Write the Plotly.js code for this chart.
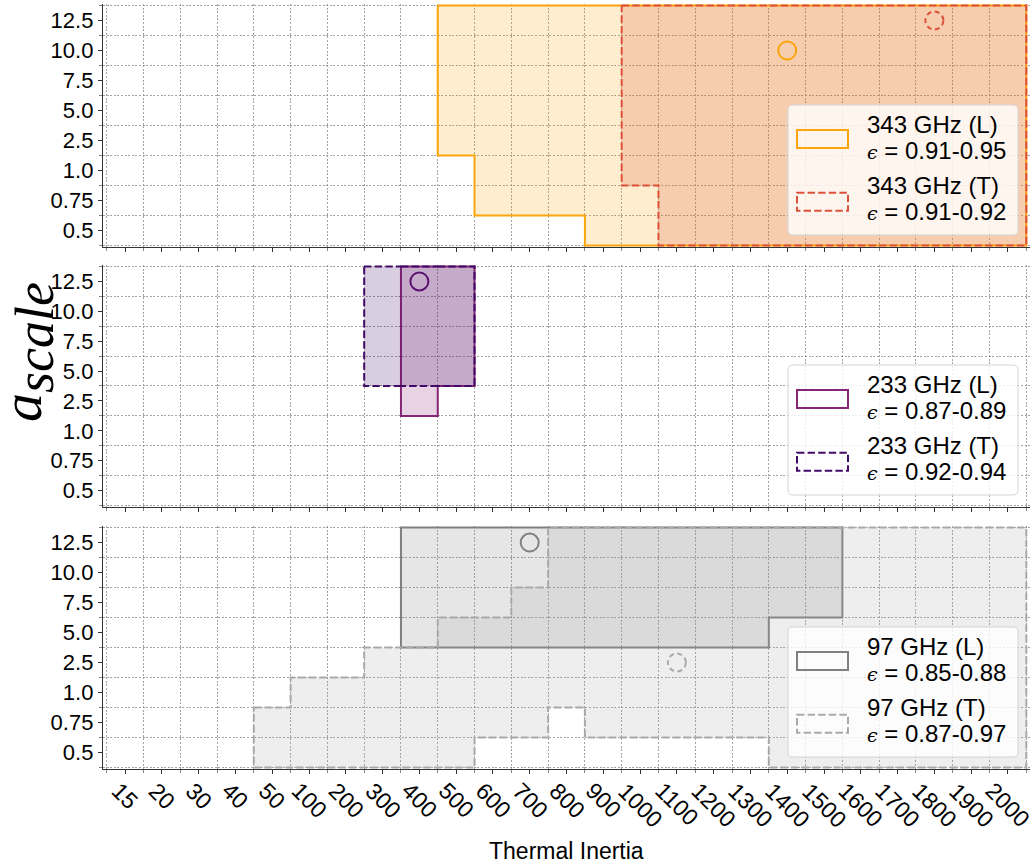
<!DOCTYPE html>
<html><head><meta charset="utf-8">
<script src="https://cdn.plot.ly/plotly-3.0.1.min.js"></script>
<style>html,body{margin:0;padding:0;background:#fff}#chart{width:1036px;height:867px}</style>
</head><body><div id="chart"></div>
<script>
// ---------------- data ----------------
const thermalInertia = ['15','20','30','40','50','100','200','300','400','500','600','700','800','900','1000','1100','1200','1300','1400','1500','1600','1700','1800','1900','2000'];
const aScale = ['0.5','0.75','1.0','2.5','5.0','7.5','10.0','12.5'];

// accepted regions: for each thermal-inertia column, lowest and highest accepted a_scale
const l343_ti = ['500','600','700','800','900','1000','1100','1200','1300','1400','1500','1600','1700','1800','1900','2000'];
const l343_lo = ['2.5','0.75','0.75','0.75','0.5','0.5','0.5','0.5','0.5','0.5','0.5','0.5','0.5','0.5','0.5','0.5'];
const l343_hi = ['12.5','12.5','12.5','12.5','12.5','12.5','12.5','12.5','12.5','12.5','12.5','12.5','12.5','12.5','12.5','12.5'];

const t343_ti = ['1000','1100','1200','1300','1400','1500','1600','1700','1800','1900','2000'];
const t343_lo = ['1.0','0.5','0.5','0.5','0.5','0.5','0.5','0.5','0.5','0.5','0.5'];
const t343_hi = ['12.5','12.5','12.5','12.5','12.5','12.5','12.5','12.5','12.5','12.5','12.5'];

const l233_ti = ['400','500'];
const l233_lo = ['2.5','5.0'];
const l233_hi = ['12.5','12.5'];

const t233_ti = ['300','400','500'];
const t233_lo = ['5.0','5.0','5.0'];
const t233_hi = ['12.5','12.5','12.5'];

const l97_ti = ['400','500','600','700','800','900','1000','1100','1200','1300','1400','1500'];
const l97_lo = ['5.0','5.0','5.0','5.0','5.0','5.0','5.0','5.0','5.0','5.0','7.5','7.5'];
const l97_hi = ['12.5','12.5','12.5','12.5','12.5','12.5','12.5','12.5','12.5','12.5','12.5','12.5'];

const t97_ti = ['50','100','200','300','400','500','600','700','800','900','1000','1100','1200','1300','1400','1500','1600','1700','1800','1900','2000'];
const t97_lo = ['0.5','0.5','0.5','0.5','0.5','0.5','0.75','0.75','1.0','0.75','0.75','0.75','0.75','0.75','0.5','0.5','0.5','0.5','0.5','0.5','0.5'];
const t97_hi = ['0.75','1.0','1.0','2.5','2.5','5.0','5.0','7.5','12.5','12.5','12.5','12.5','12.5','12.5','12.5','12.5','12.5','12.5','12.5','12.5','12.5'];

// best fits [thermal inertia, a_scale]
const best343L = ['1400','10.0'];
const best343T = ['1800','12.5'];
const best233L = ['400','12.5'];
const best97L  = ['700','12.5'];
const best97T  = ['1100','2.5'];

// legend texts
const legendNames = [['343 GHz (L)','343 GHz (T)'],['233 GHz (L)','233 GHz (T)'],['97 GHz (L)','97 GHz (T)']];
const epsRanges   = [['0.91-0.95','0.91-0.92'],['0.87-0.89','0.92-0.94'],['0.85-0.88','0.87-0.97']];

// ---------------- styles ----------------
const colL = ['#fca50a','#862573','#808080'];
const colT = ['#dd513a','#420a68','#a9a9a9'];
const fillL = ['rgba(252,165,10,0.2)','rgba(134,37,115,0.2)','rgba(128,128,128,0.2)'];
const fillT = ['rgba(221,81,58,0.2)','rgba(66,10,104,0.2)','rgba(169,169,169,0.2)'];
const circleCol = ['#fca50a','#5a1270','#808080'];
const DASH = '7.4px,3.2px';

const PL=103, PR=1030, PT=4, PB=769;
const fx = p => (p-PL)/(PR-PL);
const fy = p => (PB-p)/(PB-PT);
const panelBottomPx = [247,507,769];
const domains = [[0.6824,1],[0.3425,0.6588],[0,0.3176]];
const xAx = ['x','x2','x3'], yAx = ['y','y2','y3'];

const xi = t => thermalInertia.indexOf(t);
const yi = v => aScale.indexOf(v);

function outline(ti, lo, hi){
  const xs=[], ys=[];
  for(let k=0;k<ti.length;k++){ xs.push(xi(ti[k])-0.5, xi(ti[k])+0.5); ys.push(yi(hi[k])+0.5, yi(hi[k])+0.5); }
  for(let k=ti.length-1;k>=0;k--){ xs.push(xi(ti[k])+0.5, xi(ti[k])-0.5); ys.push(yi(lo[k])-0.5, yi(lo[k])-0.5); }
  xs.push(xs[0]); ys.push(ys[0]);
  return {xs, ys};
}

const regions = [
  [[l343_ti,l343_lo,l343_hi],[t343_ti,t343_lo,t343_hi]],
  [[l233_ti,l233_lo,l233_hi],[t233_ti,t233_lo,t233_hi]],
  [[l97_ti,l97_lo,l97_hi],[t97_ti,t97_lo,t97_hi]]
];

const traces = [];
regions.forEach((pair,p)=>{
  pair.forEach((reg,k)=>{
    const o = outline(reg[0],reg[1],reg[2]);
    traces.push({type:'scatter', mode:'lines', x:o.xs, y:o.ys, xaxis:xAx[p], yaxis:yAx[p],
      fill:'toself', fillcolor: k===0?fillL[p]:fillT[p],
      line:{color: k===0?colL[p]:colT[p], width:2, dash: k===0?'solid':DASH, simplify:false},
      hoverinfo:'skip', showlegend:false});
  });
});

// solid best-fit circles
[[best343L,0],[best233L,1],[best97L,2]].forEach(([b,p])=>{
  traces.push({type:'scatter', mode:'markers', x:[xi(b[0])], y:[yi(b[1])], xaxis:xAx[p], yaxis:yAx[p],
    marker:{symbol:'circle-open', size:18, color:circleCol[p], line:{width:2, color:circleCol[p]}},
    hoverinfo:'skip', showlegend:false});
});

const shapes = [];
// dashed best-fit circles
[[best343T,0],[best97T,2]].forEach(([b,p])=>{
  shapes.push({type:'circle', xref:xAx[p], yref:yAx[p], xsizemode:'pixel', ysizemode:'pixel',
    xanchor:xi(b[0]), yanchor:yi(b[1]), x0:-9, x1:9, y0:-9, y1:9,
    line:{color:colT[p], width:2, dash:'5px,3.5px'}, fillcolor:'rgba(0,0,0,0)', layer:'above'});
});

function rrect(x0,y0,x1,y1,r){
  const P=(x,y)=>fx(x).toFixed(5)+','+fy(y).toFixed(5);
  return 'M'+P(x0+r,y0)+' L'+P(x1-r,y0)+' Q'+P(x1,y0)+' '+P(x1,y0+r)+' L'+P(x1,y1-r)+' Q'+P(x1,y1)+' '+P(x1-r,y1)+
         ' L'+P(x0+r,y1)+' Q'+P(x0,y1)+' '+P(x0,y1-r)+' L'+P(x0,y0+r)+' Q'+P(x0,y0)+' '+P(x0+r,y0)+' Z';
}

const annotations = [];
const FONT = 'Liberation Sans, Arial, sans-serif';
const LFS = 24;
// legends
panelBottomPx.forEach((pb,p)=>{
  const bb = pb-12, bt = bb-130, bl = 788, br = 1018;
  shapes.push({type:'path', xref:'paper', yref:'paper', path:rrect(bl,bt,br,bb,5),
    fillcolor:'rgba(255,255,255,0.8)', line:{color:'#d4d4d4', width:1}, layer:'above'});
  [0,1].forEach(k=>{
    const py0 = bt + (k===0?25:87.7);
    shapes.push({type:'rect', xref:'paper', yref:'paper', x0:fx(797), x1:fx(848), y0:fy(py0), y1:fy(py0+18),
      fillcolor:'rgba(255,255,255,0)', line:{color:k===0?colL[p]:colT[p], width:2, dash:k===0?'solid':DASH}, layer:'above'});
    const b1 = bt + (k===0?27.7:88.3), b2 = bt + (k===0?53.3:114.3);
    annotations.push({xref:'paper', yref:'paper', x:fx(865), y:fy(b1-0.905*LFS-2), xanchor:'left', yanchor:'top',
      text:legendNames[p][k], showarrow:false, font:{family:FONT, size:LFS, color:'#000'}});
    annotations.push({xref:'paper', yref:'paper', x:fx(865), y:fy(b2-0.905*LFS-2), xanchor:'left', yanchor:'top',
      text:'<span style="font-family:DejaVu Serif;font-style:italic;font-size:19px">ϵ</span> = '+epsRanges[p][k],
      showarrow:false, font:{family:FONT, size:LFS, color:'#000'}});
  });
});

// x tick labels (rotated, centred on ticks)
thermalInertia.forEach((t,i)=>{
  annotations.push({xref:'x3', yref:'paper', x:i, y:0, yshift:-6, xanchor:'center', yanchor:'top',
    textangle:45, text:t, showarrow:false, font:{family:FONT, size:23, color:'#000'}});
});
// axis titles
annotations.push({xref:'paper', yref:'paper', x:0.5, y:fy(859-0.905*23-2), xanchor:'center', yanchor:'top',
  text:'Thermal Inertia', showarrow:false, font:{family:FONT, size:23, color:'#000'}});
annotations.push({xref:'paper', yref:'paper', x:fx(27), y:fy(352), xanchor:'center', yanchor:'middle', textangle:-90,
  text:'<i>a</i><sub><span style="font-size:54px"><i>scale</i></span></sub>', showarrow:false,
  font:{family:'Liberation Serif, DejaVu Serif, serif', size:58, color:'#000'}});

const xMajor = thermalInertia.map((_,i)=>i);
const xMinor = thermalInertia.map((_,i)=>i-0.5).concat([thermalInertia.length-0.5]);
const yMajor = aScale.map((_,i)=>i);
const yMinor = aScale.map((_,i)=>i-0.5).concat([aScale.length-0.5]);
const GRID = {showgrid:true, gridcolor:'#8c8c8c', gridwidth:0.8, griddash:'2px,1.6px'};

function xAxis(p){
  return {domain:[0,1], anchor:yAx[p], range:[-0.6,24.6], tickmode:'array', tickvals:xMajor, ticktext:thermalInertia,
    showticklabels:false, ticks:'outside', ticklen:4, tickwidth:1, tickcolor:'#333',
    showline:true, linecolor:'#333', linewidth:1.2, showgrid:false, zeroline:false, fixedrange:true,
    minor:Object.assign({tickmode:'array', tickvals:xMinor, ticks:'outside', ticklen:3, tickwidth:0.8, tickcolor:'#666'}, GRID)};
}
function yAxis(p){
  return {domain:domains[p], anchor:xAx[p], range:[-0.55,7.55], tickmode:'array', tickvals:yMajor, ticktext:aScale,
    ticks:'outside', ticklen:4, tickwidth:1, tickcolor:'#333', tickfont:{family:FONT, size:22, color:'#000'},
    showline:true, linecolor:'#333', linewidth:1.2, showgrid:false, zeroline:false, fixedrange:true,
    minor:Object.assign({tickmode:'array', tickvals:yMinor, ticks:'outside', ticklen:3, tickwidth:0.8, tickcolor:'#666'}, GRID)};
}

const layout = {
  width:1036, height:867, margin:{l:PL, r:1036-PR, t:PT, b:867-PB, pad:0},
  paper_bgcolor:'#fff', plot_bgcolor:'#fff', showlegend:false,
  font:{family:FONT, size:22, color:'#000'},
  xaxis:xAxis(0), xaxis2:xAxis(1), xaxis3:xAxis(2),
  yaxis:yAxis(0), yaxis2:yAxis(1), yaxis3:yAxis(2),
  shapes, annotations
};

Plotly.newPlot('chart', traces, layout, {staticPlot:true, displayModeBar:false});
</script></body></html>
